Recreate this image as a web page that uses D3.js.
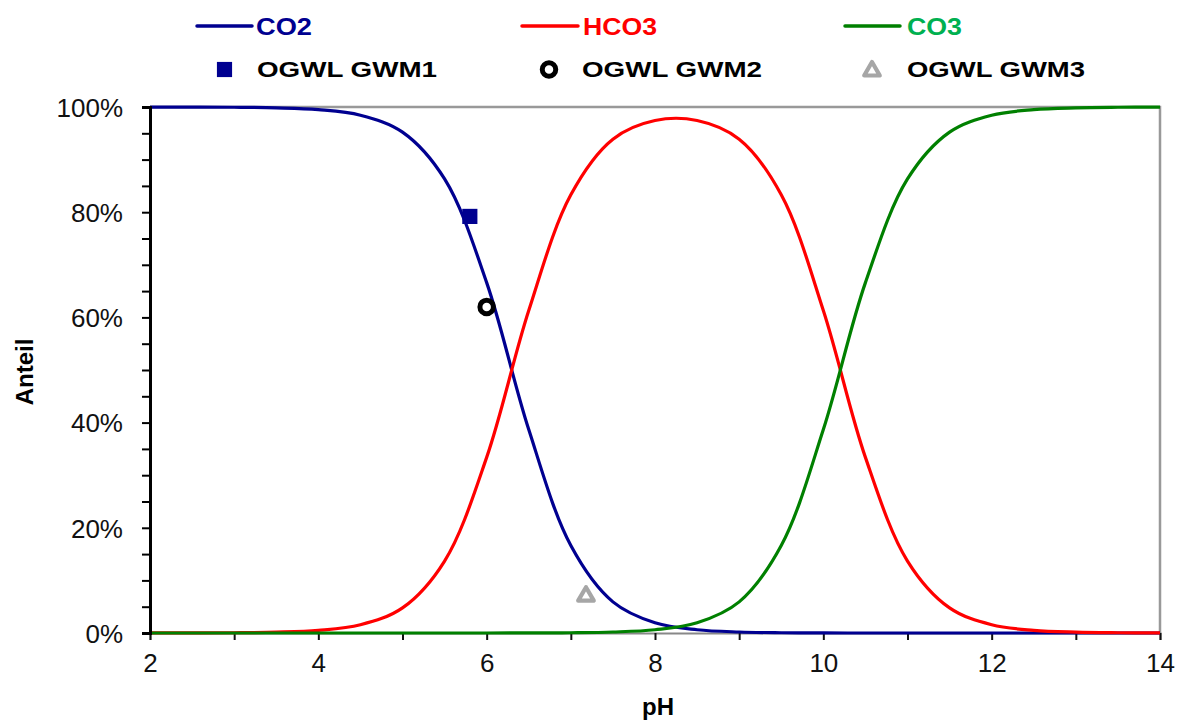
<!DOCTYPE html>
<html>
<head>
<meta charset="utf-8">
<script src="https://cdn.jsdelivr.net/npm/d3@7"></script>
<style>
    body { margin: 0; background: #fff; }
    text { font-family: "Liberation Sans", Arial, sans-serif; }
</style>
</head>
<body>
<div id="chart"></div>
<script>
// pH steps and species shares (%)
const phSteps = [2, 2.5, 3, 3.5, 4, 4.5, 5, 5.5, 6, 6.5, 7, 7.5, 8, 8.5, 9, 9.5, 10, 10.5, 11, 11.5, 12, 12.5, 13, 13.5, 14]
const co2Share = [99.99, 99.98, 99.95, 99.84, 99.5, 98.44, 95.23, 86.32, 66.61, 38.68, 16.63, 5.92, 1.94, 0.62, 0.19, 0.05, 0.01, 0, 0, 0, 0, 0, 0, 0, 0]
const hco3Share = [0.01, 0.02, 0.05, 0.16, 0.5, 1.56, 4.77, 13.68, 33.39, 61.31, 83.32, 93.89, 97.44, 97.44, 93.89, 83.32, 61.31, 33.39, 13.68, 4.77, 1.56, 0.5, 0.16, 0.05, 0.02]
const co3Share = [0, 0, 0, 0, 0, 0, 0, 0, 0, 0.01, 0.05, 0.19, 0.62, 1.94, 5.92, 16.63, 38.68, 66.61, 86.32, 95.23, 98.44, 99.5, 99.84, 99.95, 99.98]

// measured samples
const sampleNames = ["OGWL GWM1", "OGWL GWM2", "OGWL GWM3"]
const samplePh = [5.8, 6.0, 7.18]
const sampleShare = [79.2, 62.0, 7.0]

const xTicks = [2, 4, 6, 8, 10, 12, 14]
const yTicks = [0, 20, 40, 60, 80, 100]

const width = 1179, height = 720
const margin = { top: 107, right: 19, bottom: 87, left: 150 }

const svg = d3.select("#chart").append("svg")
    .attr("width", width)
    .attr("height", height)

const x = d3.scaleLinear().domain([2, 14]).range([margin.left, width - margin.right])
const y = d3.scaleLinear().domain([0, 100]).range([height - margin.bottom, margin.top])

// plot frame (top + right), gray
svg.append("path")
    .attr("d", `M${x(2)},${y(100)}H${x(14)}V${y(0)}`)
    .attr("fill", "none")
    .attr("stroke", "#999")
    .attr("stroke-width", 2.5)

// x axis
const xAxis = svg.append("g")
    .attr("transform", `translate(0,${y(0)})`)
    .call(d3.axisBottom(x).tickValues(d3.range(2, 15, 1)).tickSize(7).tickFormat(d => xTicks.includes(d) ? d : ""))
xAxis.select(".domain").attr("stroke", "#888").attr("stroke-width", 2)
xAxis.selectAll(".tick line").attr("stroke", "#111").attr("stroke-width", 2)
xAxis.selectAll(".tick text")
    .attr("y", 39)
    .attr("dy", 0)
    .attr("font-size", 26)
    .attr("fill", "#111")

// curves
const series = [
    { name: "CO2", values: co2Share, color: "#000090" },
    { name: "HCO3", values: hco3Share, color: "#ff0000" },
    { name: "CO3", values: co3Share, color: "#008000" }
]
const line = d3.line()
    .x((d, i) => x(phSteps[i]))
    .y(d => y(d))
    .curve(d3.curveCatmullRom.alpha(0.5))

svg.append("g")
    .selectAll("path")
    .data(series)
    .join("path")
    .attr("d", d => line(d.values))
    .attr("fill", "none")
    .attr("stroke", d => d.color)
    .attr("stroke-width", 3.2)

// y axis on top
const yAxis = svg.append("g")
    .attr("transform", `translate(${margin.left},0)`)
    .call(d3.axisLeft(y).tickValues(d3.range(0, 101, 5)).tickSize(8).tickFormat(d => yTicks.includes(d) ? d + "%" : ""))
yAxis.select(".domain").attr("stroke", "#000").attr("stroke-width", 3)
yAxis.selectAll(".tick line").attr("stroke", "#000").attr("stroke-width", 2)
yAxis.selectAll(".tick text")
    .attr("x", -27)
    .attr("dy", "0.36em")
    .attr("font-size", 26)
    .attr("fill", "#111")

// axis titles
svg.append("text")
    .attr("x", 658)
    .attr("y", 715)
    .attr("text-anchor", "middle")
    .attr("font-size", 24)
    .attr("font-weight", "bold")
    .text("pH")
svg.append("text")
    .attr("transform", "translate(33,372) rotate(-90)")
    .attr("text-anchor", "middle")
    .attr("font-size", 24)
    .attr("font-weight", "bold")
    .text("Anteil")

// sample markers
const markerShapes = [
    { type: d3.symbolSquare, size: 230, fill: "#000090", stroke: "none", sw: 0 },
    { type: d3.symbolCircle, size: 143, fill: "#fff", stroke: "#000", sw: 5 },
    { type: d3.symbolTriangle, size: 105, fill: "#fff", stroke: "#a6a6a6", sw: 4.2 }
]
const drawMarker = (g, i) => {
    const m = markerShapes[i]
    g.append("path")
        .attr("d", d3.symbol(m.type, m.size)())
        .attr("fill", m.fill)
        .attr("stroke", m.stroke)
        .attr("stroke-width", m.sw)
        .attr("stroke-linejoin", "round")
}
sampleNames.forEach((n, i) => {
    const g = svg.append("g").attr("transform", `translate(${x(samplePh[i])},${y(sampleShare[i])})`)
    drawMarker(g, i)
})

// legend, row 1: lines
const lineLegend = [
    { x0: 197, x1: 252, tx: 256, tw: 56 },
    { x0: 522, x1: 578, tx: 583, tw: 74 },
    { x0: 845, x1: 900, tx: 907, tw: 55 }
]
const legendText = ["#000090", "#ff0000", "#00b050"]
series.forEach((s, i) => {
    const L = lineLegend[i]
    svg.append("line")
        .attr("x1", L.x0).attr("x2", L.x1)
        .attr("y1", 26).attr("y2", 26)
        .attr("stroke", s.color)
        .attr("stroke-width", 3.5)
        .attr("stroke-linecap", "round")
    svg.append("text")
        .attr("x", L.tx)
        .attr("y", 35)
        .attr("font-size", 23)
        .attr("font-weight", "bold")
        .attr("fill", legendText[i])
        .attr("textLength", L.tw)
        .attr("lengthAdjust", "spacingAndGlyphs")
        .text(s.name)
})

// legend, row 2: samples
const markerLegend = [
    { mx: 224.5, tx: 257, tw: 180 },
    { mx: 549, tx: 582, tw: 180 },
    { mx: 872, tx: 907, tw: 178 }
]
sampleNames.forEach((n, i) => {
    const M = markerLegend[i]
    const g = svg.append("g").attr("transform", `translate(${M.mx},${i == 2 ? 71 : 69.5})`)
    drawMarker(g, i)
    svg.append("text")
        .attr("x", M.tx)
        .attr("y", 77)
        .attr("font-size", 22.5)
        .attr("font-weight", "bold")
        .attr("fill", "#000")
        .attr("textLength", M.tw)
        .attr("lengthAdjust", "spacingAndGlyphs")
        .text(n)
})
</script>
</body>
</html>
